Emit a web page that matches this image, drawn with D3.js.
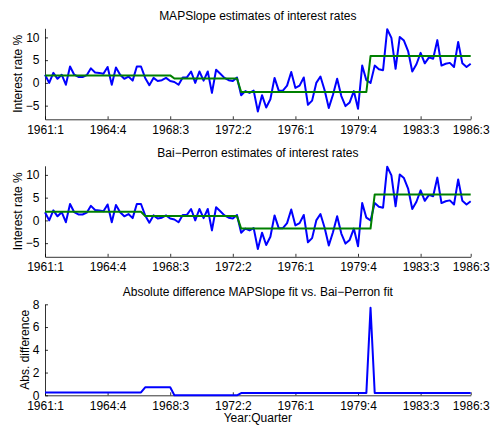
<!DOCTYPE html>
<html>
<head>
<meta charset="utf-8">
<script src="https://cdn.jsdelivr.net/npm/d3@7.9.0/dist/d3.min.js"></script>
<style>
  body { margin: 0; background: #fff; }
  svg { display: block; font-family: "Liberation Sans", Arial, Helvetica, sans-serif; }
  .axis text { font-size: 12px; fill: #000; }
  .axis path, .axis line { stroke: #000; stroke-width: 0.8; }
</style>
</head>
<body>
<svg id="chart" width="491" height="429"></svg>
<script>
// quarterly interest rates, 1961:1 .. 1986:3
const rates = [
  1.8, 0.0, 2.2, 0.9, 1.8, -0.4, 3.6, 1.8, 1.3, 1.3,
  1.7, 3.2, 2.3, 2.2, 2.0, 3.5, -0.4, 3.4, 1.8, 0.9,
  1.4, 0.5, 3.6, 3.6, 1.1, -0.5, 1.1, 0.4, 0.6, 1.1,
  0.4, 0.2, -0.4, 1.2, 1.2, 2.5, 0.0, 2.5, 0.5, 2.5,
  -2.2, 2.9, 2.0, 1.1, 0.6, 0.4, 1.2, -2.7, -1.8, -2.2,
  -1.7, -6.3, -2.7, -5.4, -3.6, 1.1, -1.7, -1.7, -0.6, 2.4,
  -1.1, -0.6, 1.2, -4.8, -3.9, 0.0, 1.4, -1.6, -5.5, -2.6,
  0.9, -2.9, -5.1, -4.3, -1.8, -5.7, 3.8, 0.6, 0.0, 3.8,
  3.0, 2.8, 11.8, 9.9, 3.1, 10.1, 9.3, 7.0, 2.5, 4.1,
  6.6, 4.3, 5.6, 5.3, 9.4, 3.8, 4.2, 4.4, 3.5, 9.0,
  4.3, 3.5, 4.2
];

// piecewise constant fits: first quarter index of each regime and its level
const mapStarts = [0, 31, 47, 78];
const mapLevels = [1.65, 0.95, -2.0, 5.9];
const bpStarts = [0, 24, 47, 79];
const bpLevels = [1.9, 0.95, -1.8, 5.7];

const tickLabels = ['1961:1', '1964:4', '1968:3', '1972:2', '1976:1', '1979:4', '1983:3', '1986:3'];
const rateTicks = [-5, 0, 5, 10];
const diffTicks = [0, 2, 4, 6, 8];

// quarter labels for each observation
const quarters = rates.map((d, i) => {
  const q = i % 4 + 1, y = 1961 + Math.floor(i / 4);
  return y + ':' + q;
});

function expandFit(starts, levels) {
  return rates.map((d, i) => {
    let k = 0;
    while (k + 1 < starts.length && i >= starts[k + 1]) k++;
    return levels[k];
  });
}
const mapFit = expandFit(mapStarts, mapLevels);
const bpFit = expandFit(bpStarts, bpLevels);
const absDiff = mapFit.map((d, i) => Math.abs(d - bpFit[i]));

const svg = d3.select('#chart');
svg.append('rect').attr('width', 491).attr('height', 429).attr('fill', '#fff');

const x = d3.scaleLinear().domain([0, rates.length - 1]).range([45, 470.7]);
const tickIdx = tickLabels.map(l => quarters.indexOf(l));

function panel(top, bottom, domain, ticks, title, ylabel, ylabelX) {
  const y = d3.scaleLinear().domain(domain).range([bottom, top]);
  const g = svg.append('g');

  g.append('g')
    .attr('class', 'axis')
    .attr('transform', `translate(0,${bottom})`)
    .call(d3.axisBottom(x).tickValues(tickIdx).tickFormat((d, i) => tickLabels[i])
      .tickSizeInner(-3).tickSizeOuter(0).tickPadding(6));

  g.append('g')
    .attr('class', 'axis')
    .attr('transform', `translate(${x.range()[0]},0)`)
    .call(d3.axisLeft(y).tickValues(ticks).tickSizeInner(-3).tickSizeOuter(0).tickPadding(5.5));

  g.selectAll('.axis .domain').attr('fill', 'none');

  g.append('text')
    .attr('x', (x.range()[0] + x.range()[1]) / 2)
    .attr('y', top - 8.5)
    .attr('text-anchor', 'middle')
    .attr('font-size', 12)
    .text(title);

  g.append('text')
    .attr('transform', `translate(${ylabelX},${(top + bottom) / 2}) rotate(-90)`)
    .attr('text-anchor', 'middle')
    .attr('font-size', 12)
    .text(ylabel);

  return { g, y };
}

function drawLine(p, values, color) {
  const line = d3.line().x((d, i) => x(i)).y(d => p.y(d));
  p.g.append('path')
    .datum(values)
    .attr('fill', 'none')
    .attr('stroke', color)
    .attr('stroke-width', 2)
    .attr('stroke-linejoin', 'round')
    .attr('d', line);
}

const p1 = panel(28.3, 119.3, [-8, 12], rateTicks, 'MAPSlope estimates of interest rates', 'Interest rate %', 21.5);
drawLine(p1, rates, '#0000ff');
drawLine(p1, mapFit, '#008000');

const p2 = panel(165.8, 256.8, [-8, 12], rateTicks, 'Bai\u2212Perron estimates of interest rates', 'Interest rate %', 21.5);
drawLine(p2, rates, '#0000ff');
drawLine(p2, bpFit, '#008000');

const p3 = panel(304.3, 395.3, [0, 8], diffTicks, 'Absolute difference MAPSlope fit vs. Bai\u2212Perron fit', 'Abs. difference', 28.5);
drawLine(p3, absDiff, '#0000ff');

svg.append('text')
  .attr('x', (x.range()[0] + x.range()[1]) / 2)
  .attr('y', 422)
  .attr('text-anchor', 'middle')
  .attr('font-size', 12)
  .text('Year:Quarter');
</script>
</body>
</html>
